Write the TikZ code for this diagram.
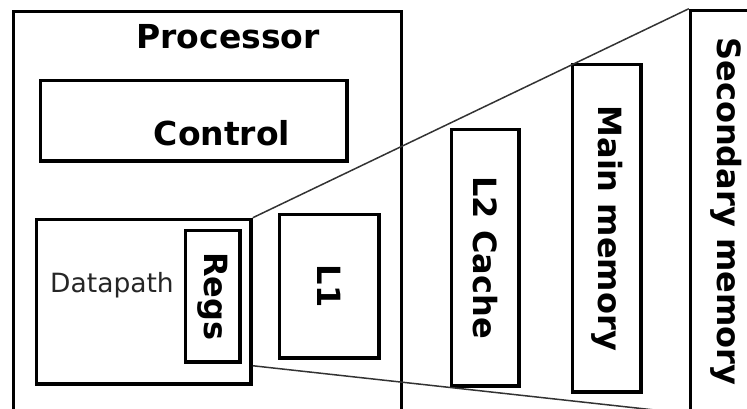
\documentclass[tikz,border=0pt]{standalone}
\usepackage{fontspec}
\setmainfont{DejaVu Sans}
\usetikzlibrary{positioning,calc}
\newcommand{\down}[1]{\rotatebox{-90}{#1}}

\begin{document}
\begin{tikzpicture}[x=1pt,y=-1pt,
  box/.style={draw,line width=3.5pt,inner sep=0pt,font=\fontsize{32}{36}\selectfont\bfseries},
  lbl/.style={inner sep=0pt,font=\fontsize{33}{38}\selectfont\bfseries},
  note/.style={inner sep=0pt,font=\fontsize{26.5}{30}\selectfont,text=black!85},
  wire/.style={line width=1.5pt,black!80}
]
  \useasboundingbox (0,0) rectangle (747,409);
  \clip (0,0) rectangle (747,409);
  % processor side
  \node[box,minimum width=388pt,minimum height=418.5pt] (proc) at (207.5,220.75) {};
  \node[lbl] (proclbl) at (228,37) {Processor};
  \node[box,minimum width=306.5pt,minimum height=80.5pt] (ctrl) at (193.75,120.75) {};
  \node[lbl] (ctrllbl) at (222,133) {Control};
  \node[box,minimum width=214.5pt,minimum height=164.5pt] (dp) at (143.75,301.75) {};
  \node[note] (dplbl) at (112,285) {Datapath};
  \node[box,minimum width=54.5pt,minimum height=131.5pt] (regs) at (212.75,296.25) {\down{Regs}};
  \node[box,minimum width=99.5pt,minimum height=143.5pt] (lone) at (329.25,286.25) {\down{L1}};
  % memory side
  \node[box,minimum width=67.5pt,minimum height=256.5pt] (ltwo) at (485.25,257.75) {\down{L2 Cache}};
  \node[box,minimum width=68.5pt,minimum height=327.5pt] (mem) at (606.75,228.25) {\down{Main memory}};
  \node[box,minimum width=71.5pt,minimum height=401.5pt] (disk) at (726.25,211.25) {\down{Secondary memory}};
  \coordinate (dplow) at ($(dp.east)+(0,64)$);
  \draw[wire] (dp.north east) -- (disk.north west);
  \draw[wire] (dplow) -- (disk.south west);
\end{tikzpicture}
\end{document}
